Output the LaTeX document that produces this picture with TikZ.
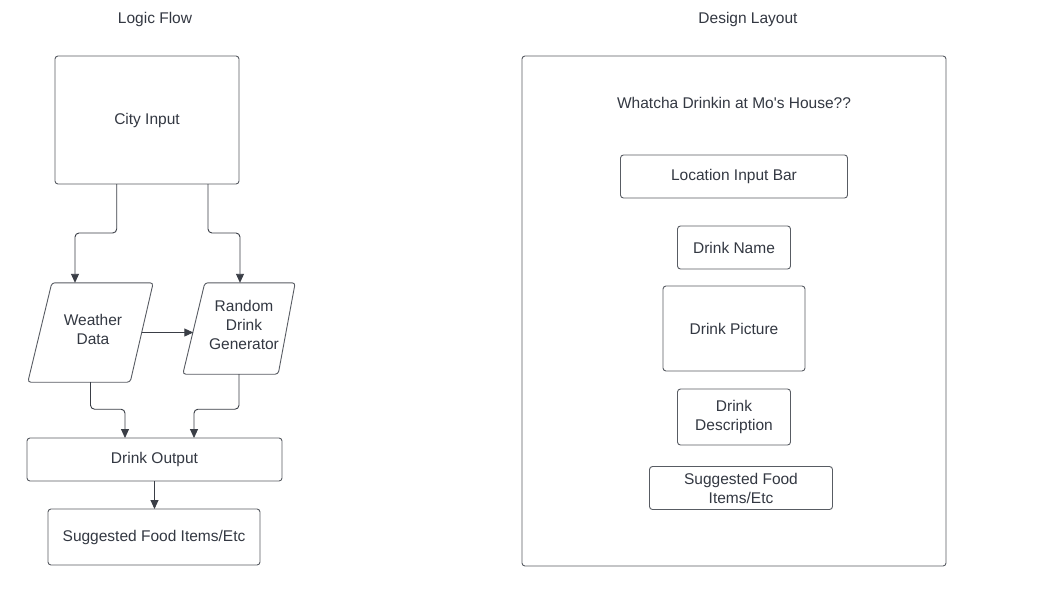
\documentclass[tikz,border=0pt]{standalone}
\usepackage{fontspec}
\setmainfont{Liberation Sans}
\usetikzlibrary{arrows.meta,calc}
\definecolor{txt}{RGB}{51,56,66}
\definecolor{bord}{RGB}{88,92,99}
\definecolor{arr}{RGB}{58,62,70}
\tikzset{
  lbl/.style={font=\fontsize{15.5}{19}\selectfont, text=txt, align=center, inner sep=0pt},
  box/.style={lbl, draw=bord, line width=0.9pt, rounded corners=3pt, outer sep=0pt},
  paraline/.style={draw=bord, line width=0.9pt, rounded corners=3pt},
  conn/.style={draw=arr, line width=0.9pt, rounded corners=4pt, -{Triangle[length=9pt,width=8pt]}}
}
\begin{document}
\begin{tikzpicture}[x=1pt,y=-1pt]
\fill[white] (0,0) rectangle (1059,595);
\useasboundingbox (0,0) rectangle (1059,595);
% titles
\node[lbl] (tl) at (155,19) {Logic Flow};
\node[lbl] (tr) at (748,19) {Design Layout};
% logic flow
\node[box, minimum width=184pt, minimum height=128pt] (city) at (147,120) {City Input};
\node[lbl, minimum width=125pt, minimum height=99pt] (w) at (90.5,332.5) {};
\draw[paraline] ([xshift=24pt]w.north west) -- (w.north east) -- ([xshift=-23pt]w.south east) -- (w.south west) -- cycle;
\node[lbl] (wt) at (93,329) {Weather\\Data};
\node[lbl, minimum width=112pt, minimum height=91pt] (r) at (239,328.5) {};
\draw[paraline] ([xshift=22pt]r.north west) -- (r.north east) -- ([xshift=-17pt]r.south east) -- (r.south west) -- cycle;
\node[lbl] (rt) at (244,325) {Random\\Drink\\Generator};
\node[box, minimum width=255pt, minimum height=43pt] (out) at (154.5,459.5) {Drink Output};
\node[box, minimum width=212pt, minimum height=56pt] (food) at (154,537) {Suggested Food Items/Etc};
% connectors
\draw[conn] ([xshift=-30.3pt]city.south) -- ++(0,49) -| ([xshift=-15.5pt]w.north);
\draw[conn] ([xshift=61pt]city.south) -- ++(0,49) -| ([xshift=1pt]r.north);
\draw[conn] ([xshift=-11.5pt]w.east) -- ([xshift=10.5pt]w.east -| r.west);
\draw[conn] (w.south) -- ++(0,27) -| ([xshift=-29.5pt]out.north);
\draw[conn] (r.south) -- ++(0,35) -| ([xshift=39.5pt]out.north);
\draw[conn] (out.south) -- (out.south |- food.north);
% design layout
\node[box, minimum width=424pt, minimum height=510pt] (frame) at (734,311) {};
\node[lbl] (t2) at (734,103) {Whatcha Drinkin at Mo\textquotesingle s House??};
\node[box, minimum width=227pt, minimum height=43pt] (loc) at (734,176.5) {Location Input Bar};
\node[box, minimum width=113pt, minimum height=43pt] (name) at (734,247.5) {Drink Name};
\node[box, minimum width=142pt, minimum height=85pt] (pic) at (734,328.5) {Drink Picture};
\node[box, minimum width=113pt, minimum height=56pt] (desc) at (734,417) {Drink\\Description};
\node[box, minimum width=183pt, minimum height=43pt] (food2) at (741,488) {Suggested Food\\Items/Etc};
\end{tikzpicture}
\end{document}
